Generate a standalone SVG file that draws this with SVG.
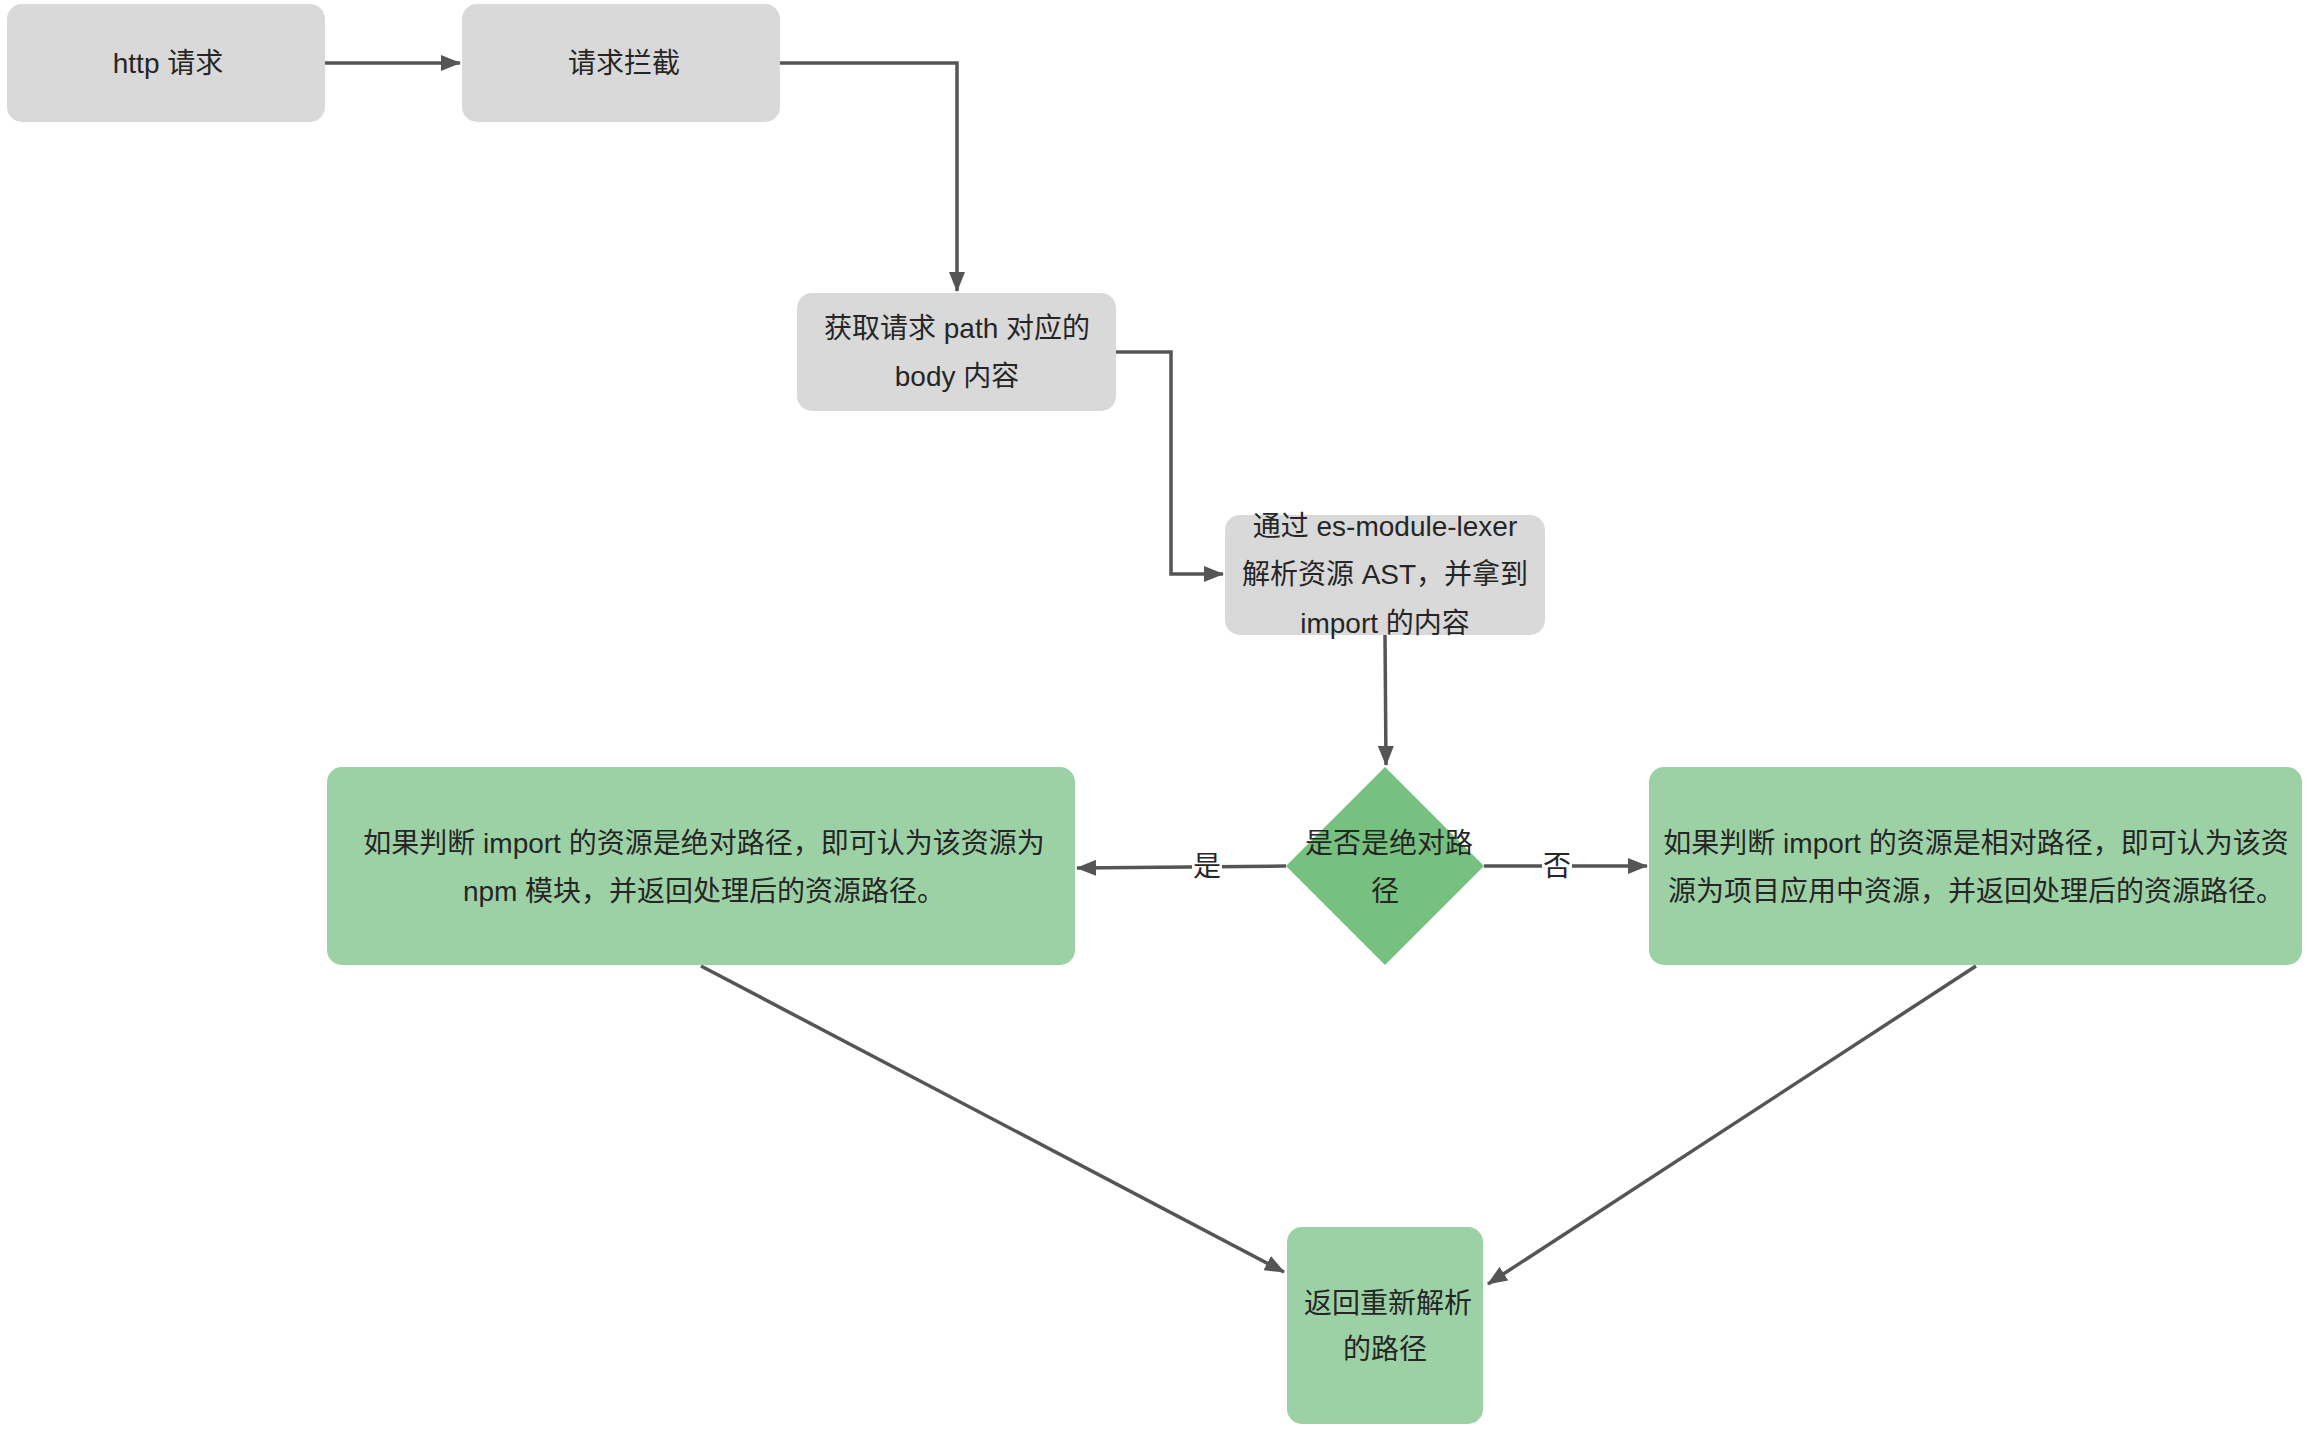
<svg xmlns="http://www.w3.org/2000/svg" width="2309" height="1430" viewBox="0 0 2309 1430">
<style>
.g{fill:#D9D9D9}
.gr{fill:#9CD1A5}
.dm{fill:#76C17F}
text{font-family:"Liberation Sans","Noto Sans CJK SC",sans-serif;font-size:28px;fill:#262626;text-anchor:middle;dominant-baseline:central}
.c{stroke:#555;stroke-width:3.5;fill:none}
.lb{fill:#fff}
</style>
<defs>
<marker id="ah" markerUnits="userSpaceOnUse" markerWidth="20" markerHeight="16" refX="19" refY="8" orient="auto">
<path d="M0,0 L20,8 L0,16 z" fill="#555"/>
</marker>
</defs>
<rect width="2309" height="1430" fill="#fff"/>
<g id="connectors">
<path class="c" d="M325,63 L460,63" marker-end="url(#ah)"/>
<path class="c" d="M780,63 L957,63 L957,291" marker-end="url(#ah)"/>
<path class="c" d="M1116,352 L1171,352 L1171,574 L1223,574" marker-end="url(#ah)"/>
<path class="c" d="M1385,635 L1386,765" marker-end="url(#ah)"/>
<path class="c" d="M1286,866 L1077,868" marker-end="url(#ah)"/>
<path class="c" d="M1484,866 L1647,866" marker-end="url(#ah)"/>
<path class="c" d="M701,966 L1284,1272" marker-end="url(#ah)"/>
<path class="c" d="M1976,966 L1488,1284" marker-end="url(#ah)"/>
<rect class="lb" x="1192" y="850" width="30" height="32"/>
<text x="1207" y="866">是</text>
<rect class="lb" x="1542" y="850" width="30" height="32"/>
<text x="1557" y="866">否</text>
</g>
<g id="n1"><rect class="g" x="7" y="4" width="318" height="118" rx="15"/><text x="168" y="63">http 请求</text></g>
<g id="n2"><rect class="g" x="462" y="4" width="318" height="118" rx="15"/><text x="624" y="63">请求拦截</text></g>
<g id="n3"><rect class="g" x="797" y="293" width="319" height="118" rx="15"/><text x="957" y="328">获取请求 path 对应的</text><text x="957" y="376">body 内容</text></g>
<g id="n4"><rect class="g" x="1225" y="515" width="320" height="120" rx="15"/><text x="1385" y="526">通过 es-module-lexer</text><text x="1385" y="574">解析资源 AST，并拿到</text><text x="1385" y="623">import 的内容</text></g>
<g id="n5"><polygon class="dm" points="1385,767 1484,866 1385,965 1286,866"/><text x="1389" y="843">是否是绝对路</text><text x="1385" y="891">径</text></g>
<g id="n6"><rect class="gr" x="327" y="767" width="748" height="198" rx="15"/><text x="704" y="843">如果判断 import 的资源是绝对路径，即可认为该资源为</text><text x="704" y="891">npm 模块，并返回处理后的资源路径。</text></g>
<g id="n7"><rect class="gr" x="1649" y="767" width="653" height="198" rx="15"/><text x="1976" y="843">如果判断 import 的资源是相对路径，即可认为该资</text><text x="1976" y="891">源为项目应用中资源，并返回处理后的资源路径。</text></g>
<g id="n8"><rect class="gr" x="1287" y="1227" width="196" height="197" rx="15"/><text x="1388" y="1303">返回重新解析</text><text x="1385" y="1349">的路径</text></g>
</svg>
